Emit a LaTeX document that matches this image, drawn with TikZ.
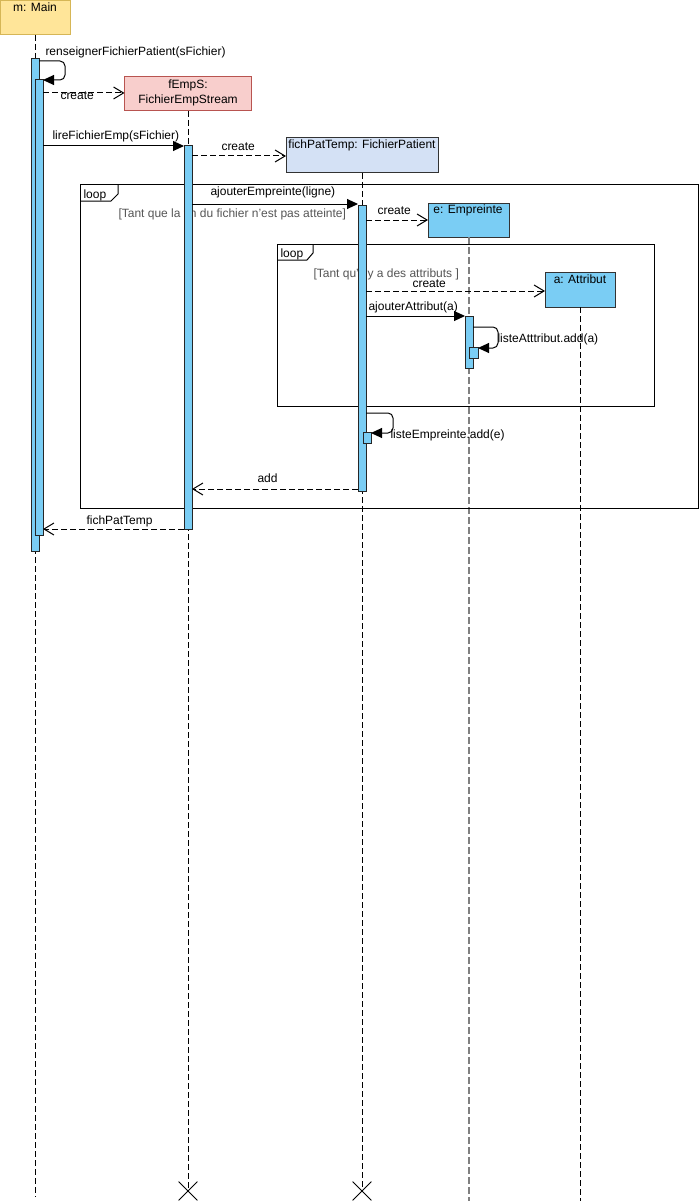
\documentclass[tikz,border=0pt]{standalone}
\usepackage{fontspec}
\setmainfont{Liberation Sans}
\usetikzlibrary{arrows.meta,positioning,shapes.misc}

\definecolor{mainfill}{HTML}{FFE599}
\definecolor{mainline}{HTML}{D6B656}
\definecolor{empfill}{HTML}{F8CECC}
\definecolor{empline}{HTML}{B85450}
\definecolor{patfill}{HTML}{D4E1F5}
\definecolor{boxline}{HTML}{333333}
\definecolor{actblue}{HTML}{7ACDF4}
\definecolor{guardgray}{HTML}{555555}

\tikzset{
  headbox/.style={draw, anchor=north west, inner sep=0pt, outer sep=0pt},
  headtxt/.style={anchor=base, inner sep=0pt},
  actbar/.style={draw=black!85, fill=actblue, minimum width=8pt, inner sep=0pt, outer sep=0pt},
  lifeline/.style={dash pattern=on 6pt off 3pt},
  lifegray/.style={draw=black!50, line width=2pt, dash pattern=on 7pt off 3pt},
  call/.style={-{Triangle[length=11pt,width=10pt]}},
  create/.style={dash pattern=on 6pt off 3pt, -{Straight Barb[length=10pt,width=12pt]}},
  reply/.style={create},
  lbl/.style={anchor=base west, inner sep=0pt},
  guard/.style={lbl, text=guardgray},
  loopframe/.style={draw},
  kill/.style={draw, cross out, minimum size=18pt, inner sep=0pt, line width=0.8pt},
}

\begin{document}
\begin{tikzpicture}[x=1pt,y=-1pt,line width=1pt,font=\fontsize{12}{15}\selectfont]
\useasboundingbox (0,0) rectangle (699,1201);

% lifeline heads
\node[headbox, fill=mainfill, draw=mainline, minimum width=69.5pt, minimum height=34.5pt] (main) at (0.5,0.5) {};
\node[headtxt] (mainT) at (35,12) {m: Main};
\node[headbox, fill=empfill, draw=empline, minimum width=127pt, minimum height=34pt] (emp) at (124.5,77) {};
\node[headtxt, anchor=north, align=center] (empT) at (188,79.5) {fEmpS:\\FichierEmpStream};
\node[headbox, fill=patfill, draw=boxline, minimum width=152pt, minimum height=35pt] (pat) at (286,138) {};
\node[headtxt] (patT) at (362,149) {fichPatTemp: FichierPatient};
\node[headbox, fill=actblue, draw=boxline, minimum width=81pt, minimum height=34pt] (empr) at (428,203) {};
\node[headtxt] (emprT) at (468,213) {e: Empreinte};
\node[headbox, fill=actblue, draw=boxline, minimum width=70pt, minimum height=35pt] (attr) at (545,272) {};
\node[headtxt] (attrT) at (580,283) {a: Attribut};

% lifelines
\coordinate (mainEnd) at (35,1197);
\coordinate (empEnd) at (188,1191);
\coordinate (patEnd) at (362,1191);
\coordinate (emprEnd) at (468,1201);
\coordinate (attrEnd) at (580,1201);
\draw[lifeline] (main.south) -- (main.south |- mainEnd);
\draw[lifeline] (emp.south) -- (emp.south |- empEnd);
\draw[lifeline] (pat.south) -- (patEnd);
\draw[lifegray] (empr.south) -- (empr.south |- emprEnd);
\draw[lifeline] (attr.south) -- (attrEnd);
\node[kill] (empX) at (emp.south |- empEnd) {};
\node[kill] (patX) at (patEnd) {};

% loop frames
\draw[loopframe] (80,185) rectangle (698,508);
\draw (80,201) -- (111,201) -- (118,194) -- (118,185);
\node[lbl] (loopA) at (83,198) {loop};
\node[guard] (guardA) at (118,217) {[Tant que la fin du fichier n'est pas atteinte]};
\draw[loopframe] (277,244) rectangle (654,406);
\draw (277,260) -- (307,260) -- (313,253) -- (313,244);
\node[lbl] (loopB) at (280,257) {loop};
\node[guard] (guardB) at (313,277) {[Tant qu'il y a des attributs ]};

% activations
\node[actbar, minimum height=492pt] (mainAct) at (35,305) {};
\node[actbar, minimum height=455pt] (mainIn) at (39,307.5) {};
\node[actbar, minimum height=383pt] (empAct) at (188,337.5) {};
\node[actbar, minimum height=286pt] (patAct) at (362,348) {};
\node[actbar, minimum height=52pt] (emprAct) at (469,342) {};
\node[actbar, minimum height=11pt, minimum width=9pt] (emprSub) at (473.5,352.5) {};
\node[actbar, minimum height=11pt] (patSub) at (367,437.5) {};

% messages
\coordinate (selfA) at (39,61);
\coordinate (selfB) at (43,80);
\draw[call, rounded corners=5pt] (selfA) -| (65,80) -- (selfB);
\node[lbl] (msgA) at (45,56) {renseignerFichierPatient(sFichier)};

\coordinate (cr1) at (43,93);
\draw[create] (cr1) -- (cr1 -| emp.west);
\node[lbl] (crA) at (60,100) {create};

\coordinate (lire) at (43,146);
\draw[call] (lire) -- (lire -| empAct.west);
\node[lbl] (msgB) at (52,140) {lireFichierEmp(sFichier)};

\coordinate (cr2) at (192,156);
\draw[create] (cr2) -- (cr2 -| pat.west);
\node[lbl] (crB) at (221,151) {create};

\coordinate (ajE) at (192,204);
\draw[call] (ajE) -- (ajE -| patAct.west);
\node[lbl] (msgC) at (210,195) {ajouterEmpreinte(ligne)};

\coordinate (cr3) at (366,220);
\draw[create] (cr3) -- (cr3 -| empr.west);
\node[lbl] (crC) at (377,214) {create};

\coordinate (cr4) at (366,291);
\draw[create] (cr4) -- (cr4 -| attr.west);
\node[lbl] (crD) at (412,287) {create};

\coordinate (ajA) at (366,316);
\draw[call] (ajA) -- (ajA -| emprAct.west);
\node[lbl] (msgD) at (368,310) {ajouterAttribut(a)};

\coordinate (selfC) at (473,327);
\coordinate (selfD) at (478,348);
\draw[call, rounded corners=5pt] (selfC) -| (498,348) -- (selfD);
\node[lbl] (msgE) at (497,342) {listeAtttribut.add(a)};

\coordinate (selfE) at (366,413);
\coordinate (selfF) at (371,433);
\draw[call, rounded corners=5pt] (selfE) -| (393,433) -- (selfF);
\node[lbl] (msgF) at (390,438) {listeEmpreinte.add(e)};

\coordinate (rt1) at (358,489);
\draw[reply] (rt1) -- (rt1 -| empAct.east);
\node[lbl] (rtA) at (257,482) {add};

\coordinate (rt2) at (184,529);
\draw[reply] (rt2) -- (rt2 -| mainIn.east);
\node[lbl] (rtB) at (86,524) {fichPatTemp};
\end{tikzpicture}
\end{document}
